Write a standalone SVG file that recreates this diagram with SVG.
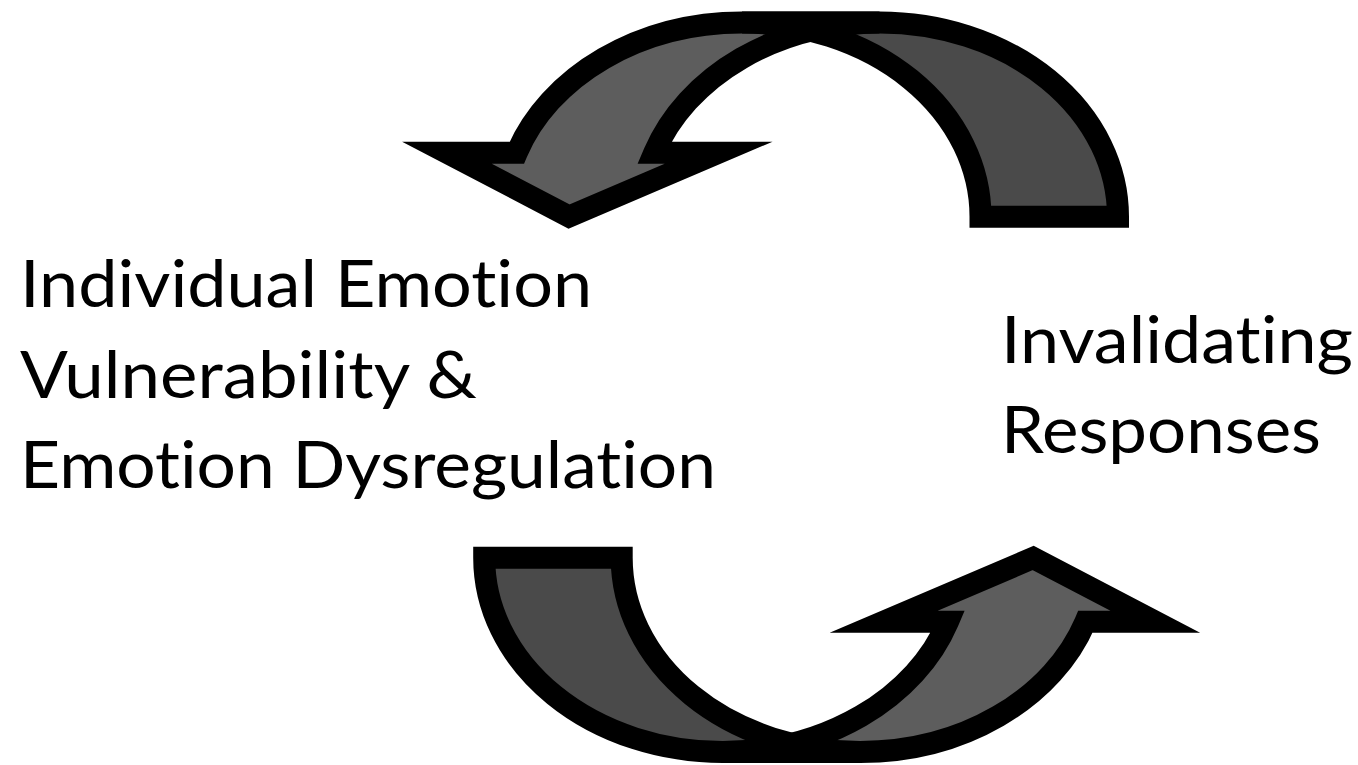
<svg xmlns="http://www.w3.org/2000/svg" xmlns:xlink="http://www.w3.org/1999/xlink" width="1358" height="765" viewBox="0 0 1358 765">
  <style>
    .back { fill: #4a4a4a; stroke: none; }
    .front { fill: #5d5d5d; stroke: none; }
    .outline { fill: none; stroke: #000000; stroke-width: 22; stroke-linejoin: miter; stroke-miterlimit: 10; }
    .label { font-family: "Lato", "Open Sans", "Liberation Sans", sans-serif; font-size: 66px; fill: #000000; font-variant-ligatures: none; font-feature-settings: "liga" 0, "clig" 0, "dlig" 0; }
  </style>
  <defs>
    <path id="backBand" d="M980.5,216.7 A238.5,194.2 0 0 0 742,22.5 L879.5,22.5 A238.5,194.2 0 0 1 1118,216.7 Z"/>
    <path id="frontBand" d="M742,22.5 A238.5,194.2 0 0 0 516.8,152.7 L446.9,152.7 L569,216.5 L718.7,152.7 L654.3,152.7 A238.5,194.2 0 0 1 879.5,22.5 Z"/>
    <g id="curvedArrow">
      <use xlink:href="#backBand" class="back"/>
      <use xlink:href="#frontBand" class="front"/>
      <use xlink:href="#backBand" class="outline"/>
      <use xlink:href="#frontBand" class="outline"/>
    </g>
  </defs>
  <rect x="0" y="0" width="1358" height="765" fill="#ffffff"/>

  <g id="connectors">
    <g id="arrow-top">
      <use xlink:href="#curvedArrow"/>
    </g>
    <g id="arrow-bottom">
      <use xlink:href="#curvedArrow" transform="rotate(180 801.1 387.25)"/>
    </g>
  </g>

  <g id="node-individual">
    <text class="label" x="20" y="307" textLength="572" lengthAdjust="spacingAndGlyphs">Individual Emotion</text>
    <text class="label" x="20" y="397.5" textLength="457" lengthAdjust="spacingAndGlyphs">Vulnerability &amp;</text>
    <text class="label" x="20" y="487.5" textLength="696" lengthAdjust="spacingAndGlyphs">Emotion Dysregulation</text>
  </g>

  <g id="node-invalidating">
    <text class="label" x="1001" y="363" textLength="352" lengthAdjust="spacingAndGlyphs">Invalidating</text>
    <text class="label" x="1001" y="453" textLength="320" lengthAdjust="spacingAndGlyphs">Responses</text>
  </g>
</svg>
